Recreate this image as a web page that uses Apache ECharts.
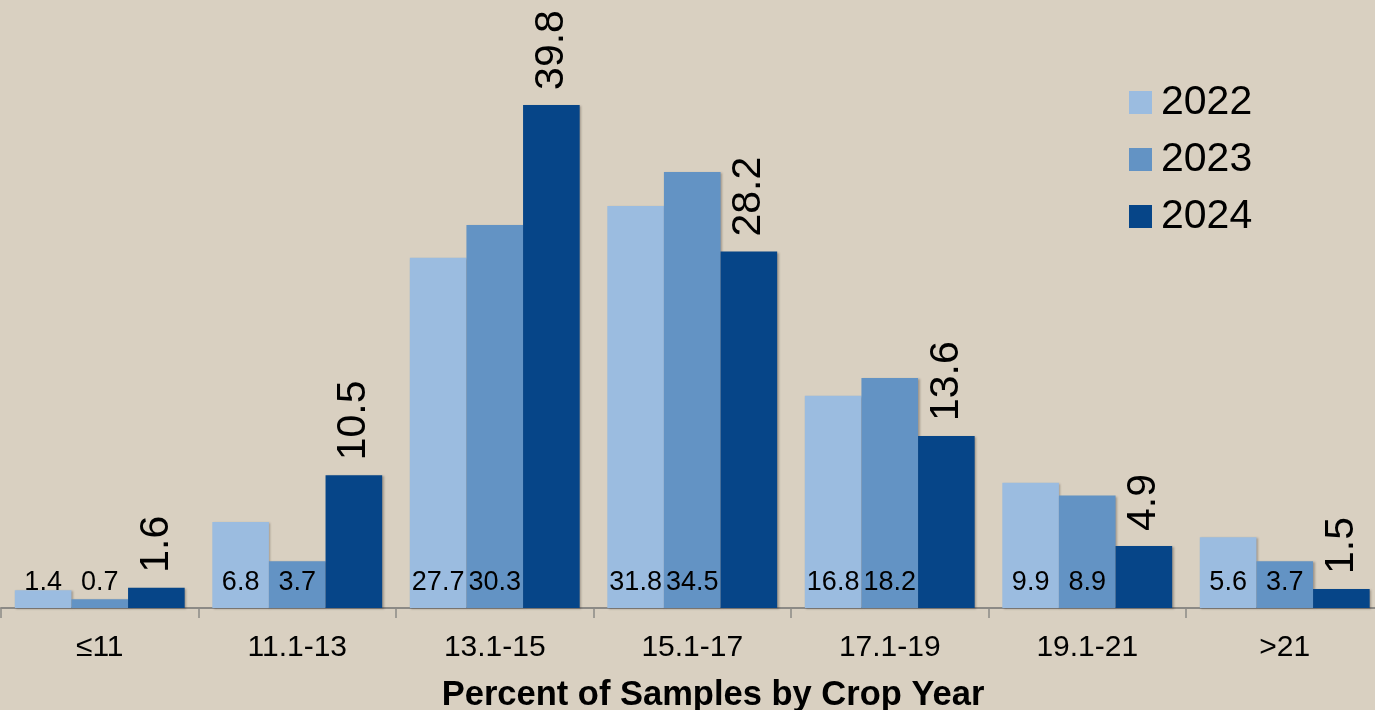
<!DOCTYPE html>
<html>
<head>
<meta charset="utf-8">
<title>Percent of Samples by Crop Year</title>
<script src="https://cdn.jsdelivr.net/npm/echarts@6/dist/echarts.min.js"></script>
<style>
  html, body { margin: 0; padding: 0; background: #d9d0c1; }
  #chart { width: 1375px; height: 710px; }
</style>
</head>
<body>
<div id="chart"></div>
<script>
// Moisture ranges (%) and share of samples in each range, by crop year
const categories = ['≤11', '11.1-13', '13.1-15', '15.1-17', '17.1-19', '19.1-21', '>21'];
const years = ['2022', '2023', '2024'];
const values2022 = [1.4, 6.8, 27.7, 31.8, 16.8, 9.9, 5.6];
const values2023 = [0.7, 3.7, 30.3, 34.5, 18.2, 8.9, 3.7];
const values2024 = [1.6, 10.5, 39.8, 28.2, 13.6, 4.9, 1.5];

const FONT = 'Liberation Sans, Arial, sans-serif';
const colors = ['#9bbce0', '#6393c4', '#064588'];

const barShadow = {
  shadowColor: 'rgba(60, 50, 40, 0.35)',
  shadowBlur: 2,
  shadowOffsetX: 1.5,
  shadowOffsetY: 1
};

// Older years: value written near the foot of the bar
function innerLabel() {
  return {
    show: true,
    position: 'insideBottom',
    distance: 12,
    color: '#000',
    fontFamily: FONT,
    fontSize: 27
  };
}

// Latest year: large value standing upright above the bar
const topLabel = {
  show: true,
  position: 'top',
  distance: 15,
  rotate: 90,
  align: 'left',
  verticalAlign: 'middle',
  color: '#000',
  fontFamily: FONT,
  fontSize: 41
};

const chart = echarts.init(document.getElementById('chart'));
chart.setOption({
  backgroundColor: '#d9d0c1',
  animation: false,
  color: colors,
  textStyle: { fontFamily: FONT },
  title: {
    text: 'Percent of Samples by Crop Year',
    left: 708,
    top: 673,
    textAlign: 'center',
    textStyle: {
      fontFamily: FONT,
      fontWeight: 'bold',
      fontSize: 34.5,
      color: '#000'
    }
  },
  legend: {
    orient: 'vertical',
    left: 1124,
    top: 77,
    itemWidth: 23,
    itemHeight: 23,
    itemGap: 16,
    icon: 'rect',
    data: years,
    textStyle: {
      fontFamily: FONT,
      fontSize: 41,
      lineHeight: 41,
      color: '#000',
      padding: [0, 0, 0, 4]
    }
  },
  grid: {
    left: 1,
    top: 0,
    right: -8.5,
    bottom: 102,
    containLabel: false,
    outerBoundsMode: 'none'
  },
  xAxis: {
    type: 'category',
    data: categories,
    axisLine: { show: true, lineStyle: { color: '#8c8a86', width: 2 } },
    axisTick: { show: true, length: 10, lineStyle: { color: '#8c8a86', width: 1.5 } },
    axisLabel: {
      margin: 40,
      verticalAlign: 'middle',
      color: '#000',
      fontFamily: FONT,
      fontSize: 30
    }
  },
  yAxis: {
    type: 'value',
    min: 0,
    max: 48.1,
    show: false,
    splitLine: { show: false }
  },
  series: [
    {
      name: years[0],
      type: 'bar',
      data: values2022,
      barGap: '0%',
      barCategoryGap: '14%',
      itemStyle: Object.assign({ color: colors[0] }, barShadow),
      label: innerLabel()
    },
    {
      name: years[1],
      type: 'bar',
      data: values2023,
      barGap: '0%',
      barCategoryGap: '14%',
      itemStyle: Object.assign({ color: colors[1] }, barShadow),
      label: innerLabel()
    },
    {
      name: years[2],
      type: 'bar',
      data: values2024,
      barGap: '0%',
      barCategoryGap: '14%',
      itemStyle: Object.assign({ color: colors[2] }, barShadow),
      label: topLabel
    }
  ]
});
</script>
</body>
</html>
